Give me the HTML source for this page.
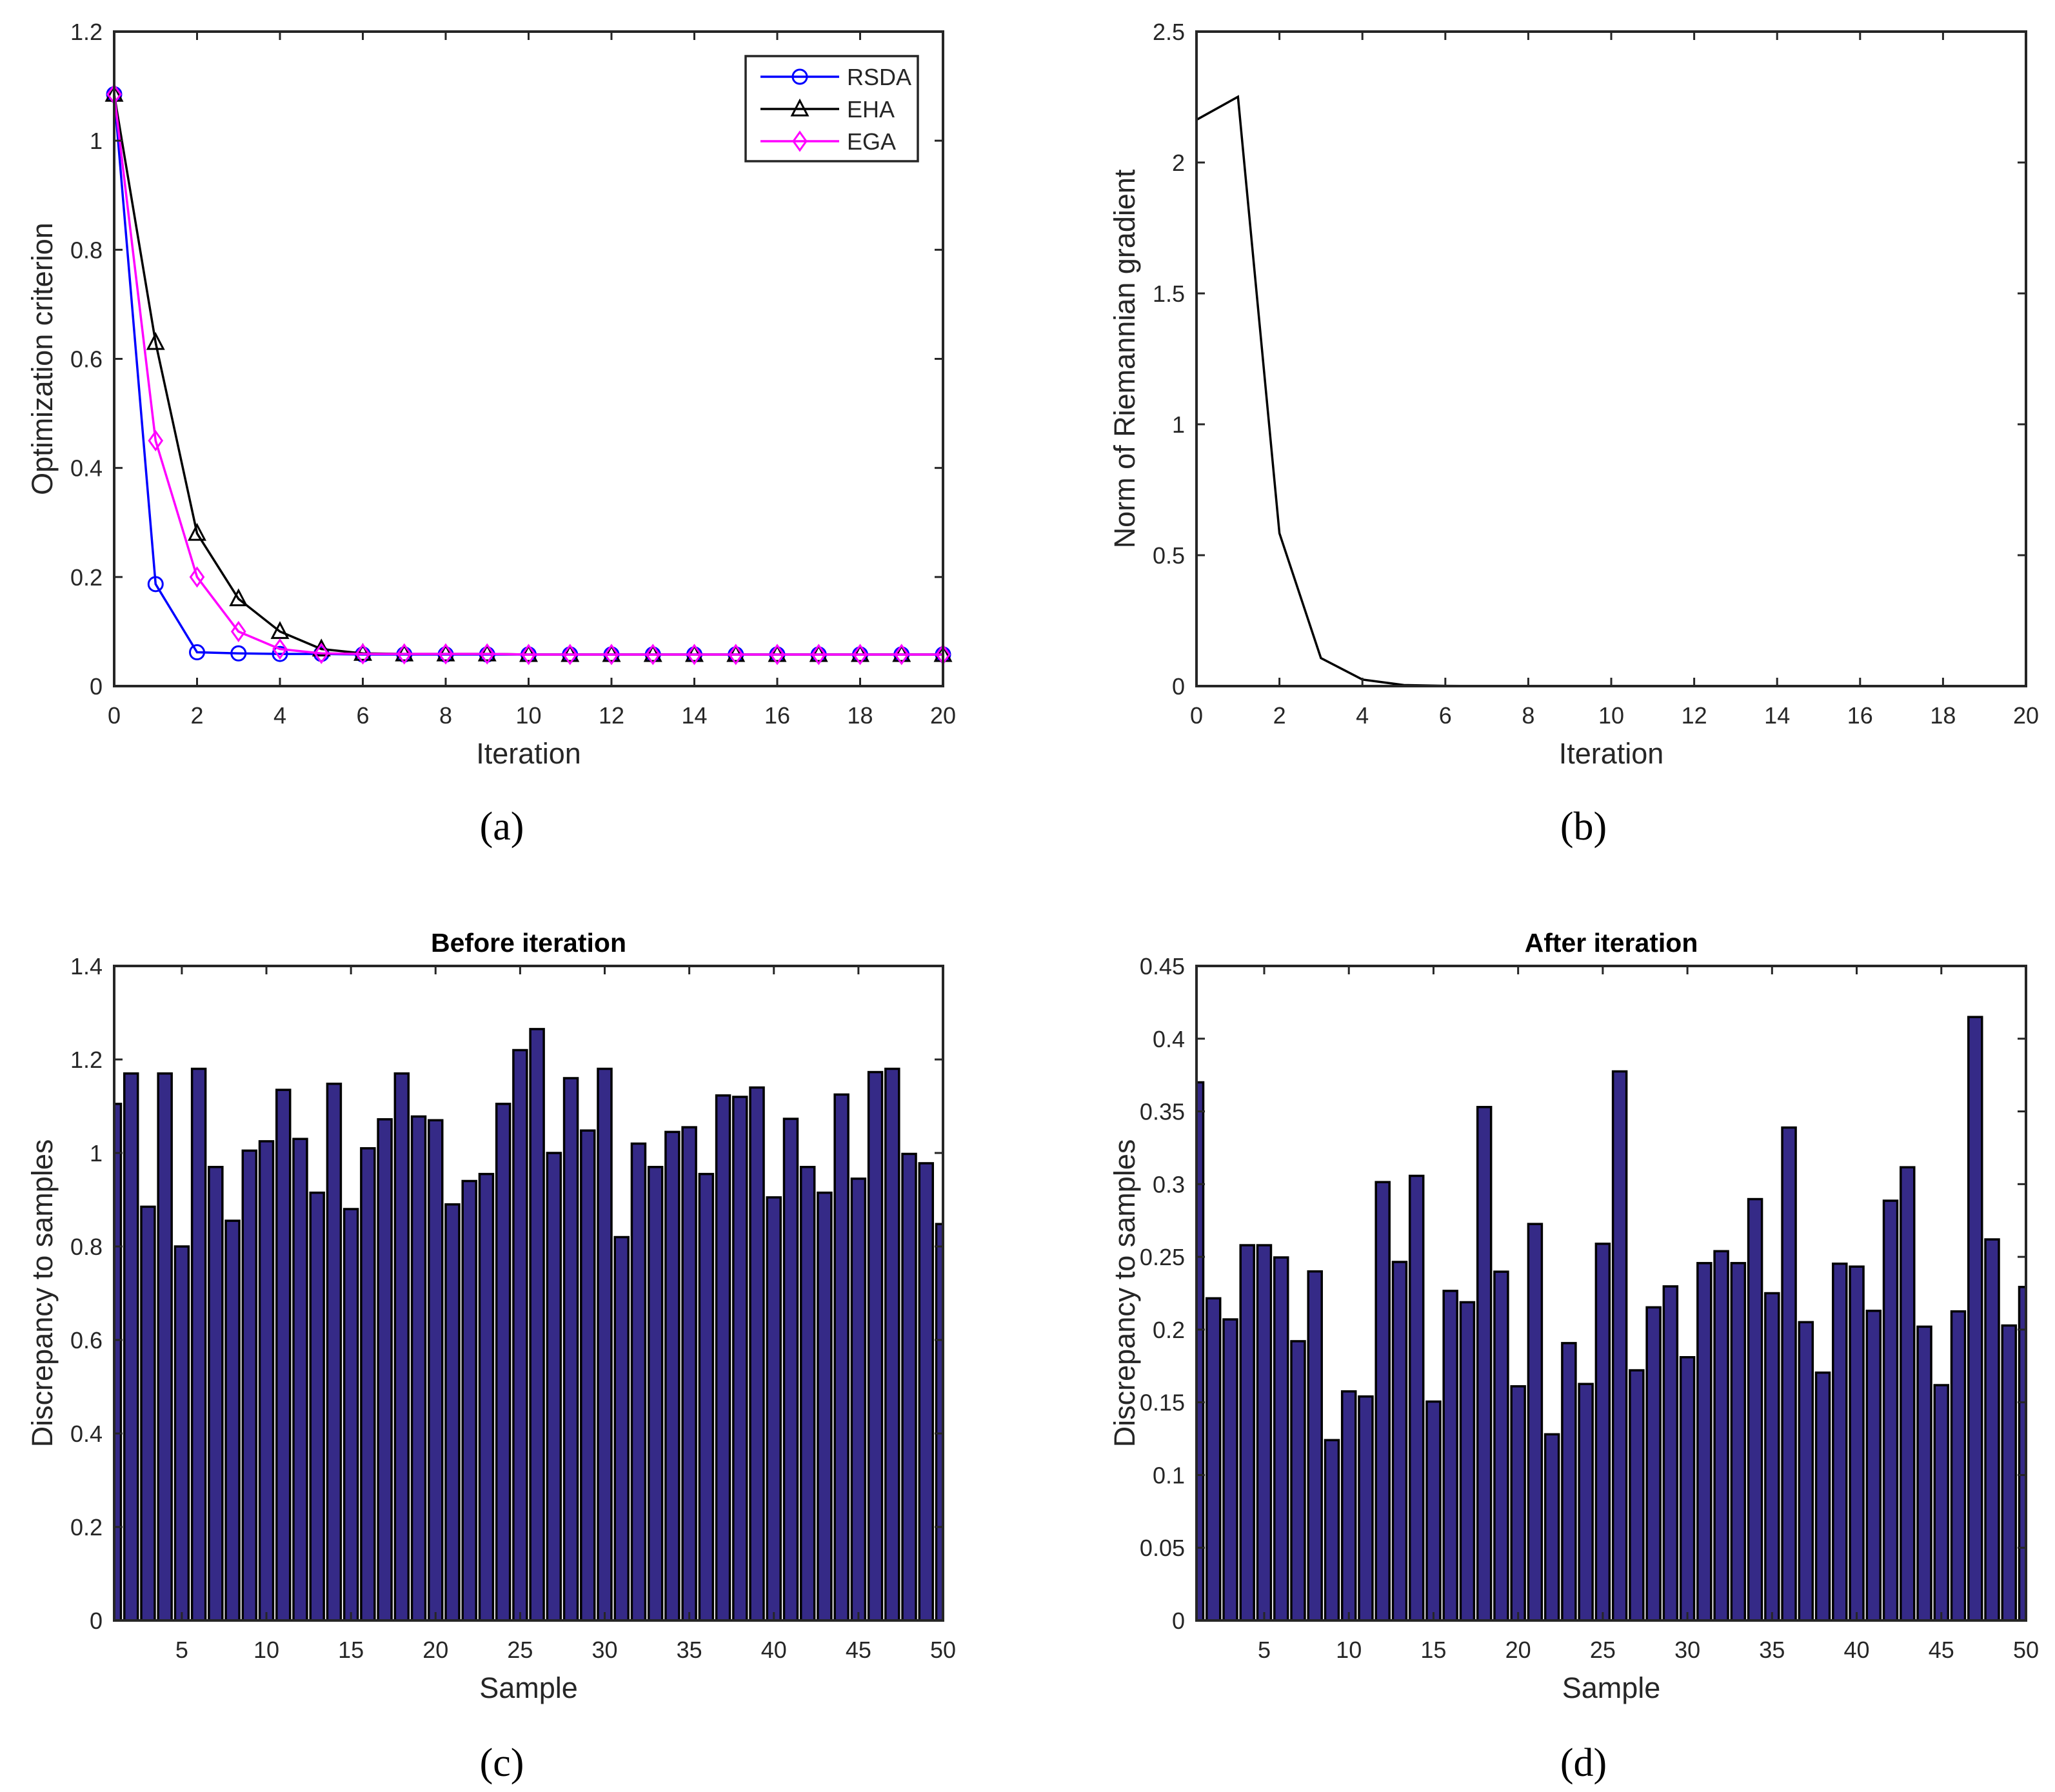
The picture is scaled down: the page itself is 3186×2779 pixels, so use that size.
<!DOCTYPE html>
<html><head><meta charset="utf-8"><style>
html,body{margin:0;padding:0;background:#fff;}
svg{display:block;font-family:"Liberation Sans",Arial,sans-serif;}
.tk{font-size:36px;fill:#262626;}
.lab{font-size:45px;fill:#262626;}
.ttl{font-size:41px;font-weight:bold;fill:#000;}
.cap{font-family:"Liberation Serif",serif;font-size:62px;fill:#000;}
</style></head><body>
<svg id="fig" width="3186" height="2779" viewBox="0 0 3186 2779" xmlns="http://www.w3.org/2000/svg">
<text class="cap" x="778" y="1302" text-anchor="middle">(a)</text>
<text class="cap" x="2455" y="1302" text-anchor="middle">(b)</text>
<text class="cap" x="778" y="2754" text-anchor="middle">(c)</text>
<text class="cap" x="2455" y="2754" text-anchor="middle">(d)</text>
</svg>
<script>
const iterX = [0,1,2,3,4,5,6,7,8,9,10,11,12,13,14,15,16,17,18,19,20];
const rsdaY = [1.085,0.187,0.062,0.060,0.059,0.059,0.058,0.058,0.058,0.058,0.058,0.058,0.058,0.058,0.058,0.058,0.058,0.058,0.058,0.058,0.058];
const ehaY  = [1.085,0.630,0.280,0.160,0.100,0.068,0.060,0.059,0.059,0.059,0.058,0.058,0.058,0.058,0.058,0.058,0.058,0.058,0.058,0.058,0.058];
const egaY  = [1.085,0.450,0.200,0.100,0.068,0.060,0.059,0.059,0.059,0.059,0.058,0.058,0.058,0.058,0.058,0.058,0.058,0.058,0.058,0.058,0.058];
const gradY = [2.163,2.251,0.584,0.107,0.025,0.004,0.001,0,0,0,0,0,0,0,0,0,0,0,0,0,0];
const beforeY = [1.105,1.17,0.885,1.17,0.80,1.18,0.97,0.855,1.005,1.025,1.135,1.03,0.915,1.148,0.88,1.01,1.072,1.17,1.078,1.07,0.89,0.94,0.955,1.105,1.22,1.265,1.0,1.16,1.048,1.18,0.82,1.02,0.97,1.045,1.055,0.955,1.123,1.12,1.14,0.905,1.073,0.97,0.915,1.125,0.945,1.173,1.18,0.998,0.978,0.848];
const afterY = [0.370,0.2215,0.207,0.258,0.258,0.2496,0.192,0.240,0.124,0.1575,0.154,0.3014,0.2465,0.3057,0.1505,0.2266,0.2188,0.353,0.2398,0.161,0.2726,0.128,0.1907,0.1626,0.259,0.3775,0.172,0.2153,0.2297,0.181,0.2457,0.2539,0.2457,0.2897,0.225,0.3389,0.2051,0.1704,0.2453,0.2433,0.2129,0.2886,0.3116,0.202,0.1618,0.2125,0.4149,0.262,0.2028,0.2293];
const ticksA = [0,0.2,0.4,0.6,0.8,1,1.2];
const ticksB = [0,0.5,1,1.5,2,2.5];
const ticksC = [0,0.2,0.4,0.6,0.8,1,1.2,1.4];
const ticksD = [0,0.05,0.1,0.15,0.2,0.25,0.3,0.35,0.4,0.45];
const ticksIter = [0,2,4,6,8,10,12,14,16,18,20];
const ticksSample = [5,10,15,20,25,30,35,40,45,50];

const NS="http://www.w3.org/2000/svg";
const svg=document.getElementById('fig');
function mk(tag,attrs,parent){const e=document.createElementNS(NS,tag);for(const k in attrs)e.setAttribute(k,attrs[k]);(parent||svg).appendChild(e);return e;}

function axes(id,L,R,T,B,xmin,xmax,ymin,ymax,xt,yt,xlabel,ylabel,title){
  const g=mk('g',{});
  
  
  const sx=v=>L+(v-xmin)/(xmax-xmin)*(R-L);
  const sy=v=>B-(v-ymin)/(ymax-ymin)*(B-T);
  return {g,sx,sy,finish:function(){
    const fr=mk('rect',{x:L,y:T,width:R-L,height:B-T,fill:'none',stroke:'#262626','stroke-width':4},g);
    
    
    xt.forEach(v=>{const x=sx(v);
      mk('line',{x1:x,y1:B,x2:x,y2:B-13,stroke:'#262626','stroke-width':3},g);
      mk('line',{x1:x,y1:T,x2:x,y2:T+13,stroke:'#262626','stroke-width':3},g);
      const t=mk('text',{x:x,y:B+58,'text-anchor':'middle',class:'tk'},g);t.textContent=String(v);
      
      });
    yt.forEach(v=>{const y=sy(v);
      mk('line',{x1:L,y1:y,x2:L+13,y2:y,stroke:'#262626','stroke-width':3},g);
      mk('line',{x1:R,y1:y,x2:R-13,y2:y,stroke:'#262626','stroke-width':3},g);
      const t=mk('text',{x:L-18,y:y+13,'text-anchor':'end',class:'tk'},g);t.textContent=String(v);
      
      });
    const xl=mk('text',{x:(L+R)/2,y:B+120,'text-anchor':'middle',class:'lab'},g);xl.textContent=xlabel;
    
    
    const yl=mk('text',{x:0,y:0,'text-anchor':'middle',class:'lab',transform:'translate('+(L-96)+','+((T+B)/2)+') rotate(-90)'},g);yl.textContent=ylabel;
    
    
    if(title){const tt=mk('text',{x:(L+R)/2,y:T-22,'text-anchor':'middle',class:'ttl'},g);tt.textContent=title;
      
      }
  }};
}
function marker(g,type,x,y,color){
  let e;
  if(type==='o') e=mk('circle',{cx:x,cy:y,r:11,fill:'none',stroke:color,'stroke-width':3},g);
  else if(type==='^') e=mk('polygon',{points:(x)+','+(y-13)+' '+(x-12)+','+(y+10)+' '+(x+12)+','+(y+10),fill:'none',stroke:color,'stroke-width':3},g);
  else e=mk('polygon',{points:x+','+(y-14)+' '+(x+10)+','+y+' '+x+','+(y+14)+' '+(x-10)+','+y,fill:'none',stroke:color,'stroke-width':3},g);
  
  
}
// (a)
const A=axes('plot-a',177,1462,49,1064,0,20,0,1.2,ticksIter,ticksA,'Iteration','Optimization criterion');
[[rsdaY,'#0000ff','o','rsda'],[ehaY,'#000000','^','eha'],[egaY,'#ff00ff','d','ega']].forEach(s=>{
  const pts=iterX.map((x,i)=>A.sx(x)+','+A.sy(s[0][i])).join(' ');
  const p=mk('polyline',{points:pts,fill:'none',stroke:s[1],'stroke-width':3.5},A.g);
  
  
  iterX.forEach((x,i)=>marker(A.g,s[2],A.sx(x),A.sy(s[0][i]),s[1]));
});
A.finish();
// legend
const lg=mk('g',{});


mk('rect',{x:1156,y:87,width:267,height:163,fill:'#fff',stroke:'#262626','stroke-width':3.5},lg);
[['RSDA','#0000ff','o',119],['EHA','#000000','^',169],['EGA','#ff00ff','d',219]].forEach(e=>{
  const gg=mk('g',{},lg);
  
  
  mk('line',{x1:1179,y1:e[3],x2:1301,y2:e[3],stroke:e[1],'stroke-width':3.5},gg);
  marker(gg,e[2],1240,e[3],e[1]);
  const t=mk('text',{x:1313,y:e[3]+13,class:'tk',fill:'#000'},gg);t.textContent=e[0];
});
// (b)
const Bp=axes('plot-b',1855,3141,49,1064,0,20,0,2.5,ticksIter,ticksB,'Iteration','Norm of Riemannian gradient');
const pb=mk('polyline',{points:iterX.map((x,i)=>Bp.sx(x)+','+Bp.sy(gradY[i])).join(' '),fill:'none',stroke:'#000','stroke-width':3.5},Bp.g);


Bp.finish();
// bars
function bars(id,L,R,vals,ymax,yt,title){
  const P=axes(id,L,R,1498,2513,1,50,0,ymax,ticksSample,yt,'Sample','Discrepancy to samples',title);
  const cid='clip-'+id;
  const cp=mk('clipPath',{id:cid},P.g);mk('rect',{x:L,y:1498,width:R-L,height:1015},cp);
  const bg=mk('g',{'clip-path':'url(#'+cid+')'},P.g);
  vals.forEach((v,i)=>{const x0=P.sx(i+1-0.4),x1=P.sx(i+1+0.4);
    const r=mk('rect',{x:x0,y:P.sy(v),width:x1-x0,height:P.sy(0)-P.sy(v),fill:'#352a87',stroke:'#000','stroke-width':3.5},bg);
    
    });
  P.finish();
}
bars('plot-c',177,1462,beforeY,1.4,ticksC,'Before iteration');
bars('plot-d',1855,3141,afterY,0.45,ticksD,'After iteration');
</script>
</body></html>
